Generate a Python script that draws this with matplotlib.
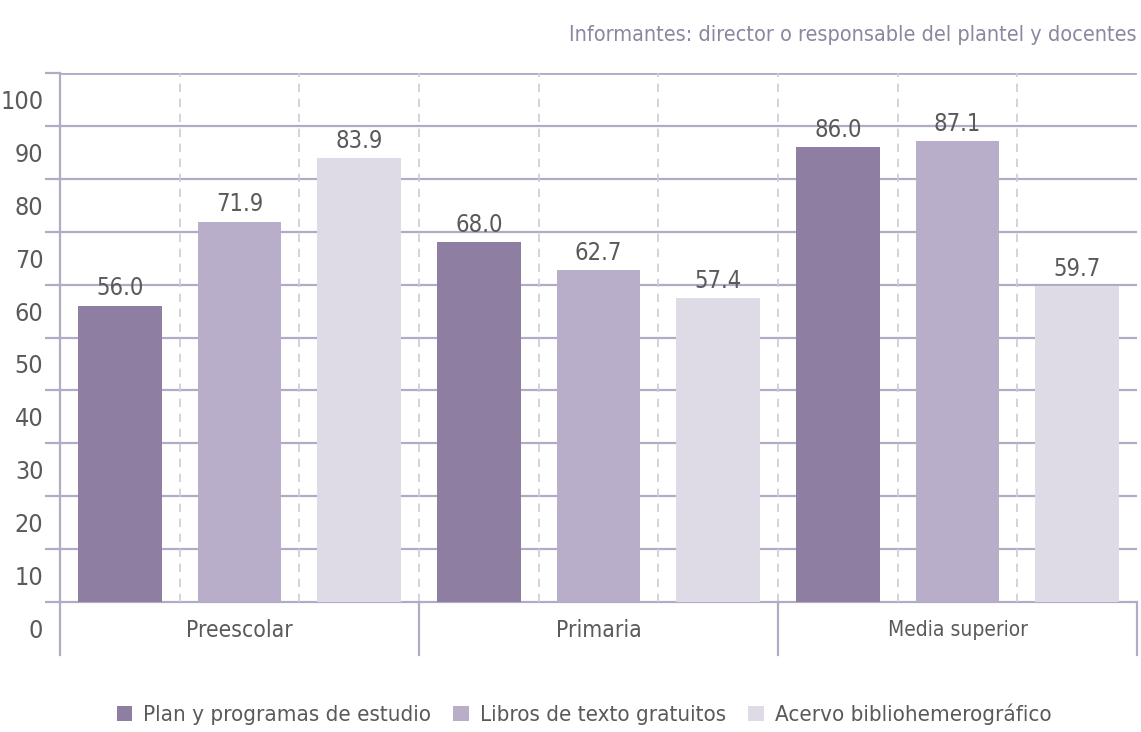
import matplotlib
matplotlib.use("Agg")
import matplotlib.pyplot as plt
from matplotlib.patches import Patch

plt.rcParams['font.family'] = ['DejaVu Sans']
plt.rcParams['font.stretch'] = 'condensed'

niveles = ["Preescolar", "Primaria", "Media superior"]
series = ["Plan y programas de estudio", "Libros de texto gratuitos", "Acervo bibliohemerográfico"]
plan = [56.0, 68.0, 86.0]
libros = [71.9, 62.7, 87.1]
acervo = [83.9, 57.4, 59.7]
y_ticks = [0, 10, 20, 30, 40, 50, 60, 70, 80, 90, 100]

colores = ["#8e7ea2", "#b8aec9", "#dedae6"]
grid_c = "#b3aac6"
text_c = "#5a5a5a"

fig = plt.figure(figsize=(11.41, 7.32), dpi=100)
ax = fig.add_axes([0.0526, 0.1052, 0.9439, 0.7951])

valores = [plan, libros, acervo]
for g in range(len(niveles)):
    for s in range(3):
        xc = g * 3 + s + 0.5
        v = valores[s][g]
        ax.bar(xc, v, width=0.7, color=colores[s], zorder=3)
        ax.text(xc, v + 1.0, f"{v:.1f}", ha="center", va="bottom",
                fontsize=17, color=text_c, zorder=4)

# horizontal grid lines
for t in y_ticks:
    ax.axhline(t, color=grid_c, lw=2 if t == 100 else 1.6, zorder=1)

# dashed slot separators
for x in range(1, 9):
    ax.plot([x, x], [0, 100], color="#cfcbd8", lw=1.2, ls=(0, (5, 4)), zorder=2)
# solid group separators in the category band
for x in [3, 6, 9]:
    ax.plot([x, x], [-10, 0], color=grid_c, lw=1.6, zorder=2, clip_on=False)

for g, nombre in enumerate(niveles):
    ax.text(g * 3 + 1.5, -5.3, nombre, ha="center", va="center",
            fontsize=15 if g == 2 else 16.5, color=text_c)

ax.set_xlim(0, 9)
ax.set_ylim(-10, 100)
for side in ["top", "right", "bottom"]:
    ax.spines[side].set_visible(False)
ax.spines["left"].set_color(grid_c)
ax.spines["left"].set_linewidth(1.6)

ax.set_xticks([])
ax.set_yticks(y_ticks)
ax.set_yticklabels([])
ax.tick_params(axis="y", which="major", length=11, width=1.6, color=grid_c)
ax.set_yticks([t - 5 for t in y_ticks], minor=True)
ax.set_yticklabels([str(t) for t in y_ticks], minor=True)
ax.tick_params(axis="y", which="minor", length=0, pad=12, labelsize=18, labelcolor=text_c)

fig.text(0.9965, 0.952, "Informantes: director o responsable del plantel y docentes",
         ha="right", va="center", fontsize=15.5, color="#8c87a0")

handles = [Patch(facecolor=c, edgecolor="none") for c in colores]
fig.legend(handles, series, loc="center", bbox_to_anchor=(0.512, 0.024), ncol=3,
           frameon=False, fontsize=16, labelcolor=text_c, handlelength=0.7,
           handleheight=0.7, handletextpad=0.5, columnspacing=1.0)

fig.savefig("out.png", dpi=100)
